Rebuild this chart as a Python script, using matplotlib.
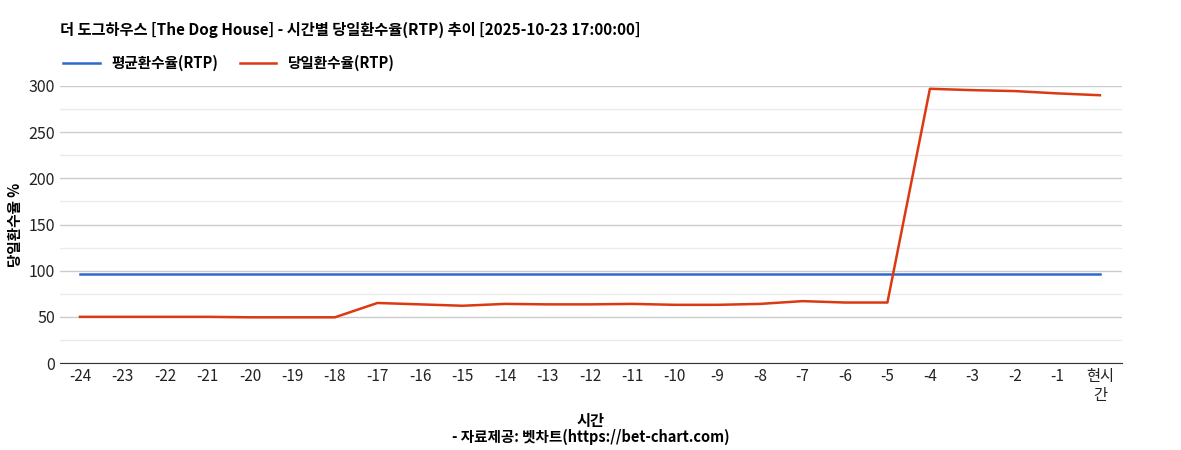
import matplotlib
matplotlib.use('Agg')
import matplotlib.pyplot as plt

plt.rcParams['font.family'] = ['Noto Sans CJK KR', 'DejaVu Sans']

labels = [str(i) for i in range(-24, 0)] + ['현시\n간']
avg_rtp = [96.5] * 25
day_rtp = [50, 50, 50, 50, 49.5, 49.5, 49.5, 65, 63.5, 62, 64, 63.5, 63.5, 64, 63, 63, 64, 67, 65.5, 65.5,
           297, 295.5, 294.5, 292, 290]

fig = plt.figure(figsize=(11.81, 4.5), dpi=100)
ax = fig.add_axes([60 / 1181, 1 - 363 / 450, 1062 / 1181, 277 / 450])
x = range(len(labels))
ax.plot(x, avg_rtp, color='#3366cc', lw=1.8, label='평균환수율(RTP)')
ax.plot(x, day_rtp, color='#dc3912', lw=1.8, label='당일환수율(RTP)')

ax.set_xlim(-0.47, len(labels) - 1 + 0.52)
ax.set_ylim(0, 300)
ax.set_yticks(range(0, 301, 50))
ax.set_yticks(range(25, 300, 50), minor=True)
ax.grid(axis='y', which='major', color='#cccccc', lw=1)
ax.grid(axis='y', which='minor', color='#ebebeb', lw=1)
ax.set_axisbelow(True)
ax.set_xticks(list(x))
ax.set_xticklabels(labels, fontsize=11)
ax.tick_params(axis='both', which='both', length=0, labelsize=11, colors='#222222')
ax.tick_params(axis='y', labelsize=11.5)
for s in ['top', 'right', 'left']:
    ax.spines[s].set_visible(False)
ax.spines['bottom'].set_color('#333333')

ax.set_ylabel('당일환수율 %', fontsize=10.5, fontweight='bold', labelpad=4)
ax.set_xlabel('시간', fontsize=11, fontweight='bold', labelpad=6)

fig.text(60 / 1181, 1 - 30 / 450, '더 도그하우스 [The Dog House] - 시간별 당일환수율(RTP) 추이 [2025-10-23 17:00:00]',
         fontsize=11, fontweight='bold', va='center')
fig.text(0.5, 1 - 437 / 450, '- 자료제공: 벳차트(https://bet-chart.com)', fontsize=10.5, fontweight='bold',
         ha='center', va='center')
fig.legend(loc='upper left', bbox_to_anchor=(50 / 1181, 1 - 42 / 450), ncol=2, frameon=False,
           prop={'weight': 'bold', 'size': 10.5}, handlelength=2.5, columnspacing=1.5)

fig.savefig('out.png', dpi=100)
